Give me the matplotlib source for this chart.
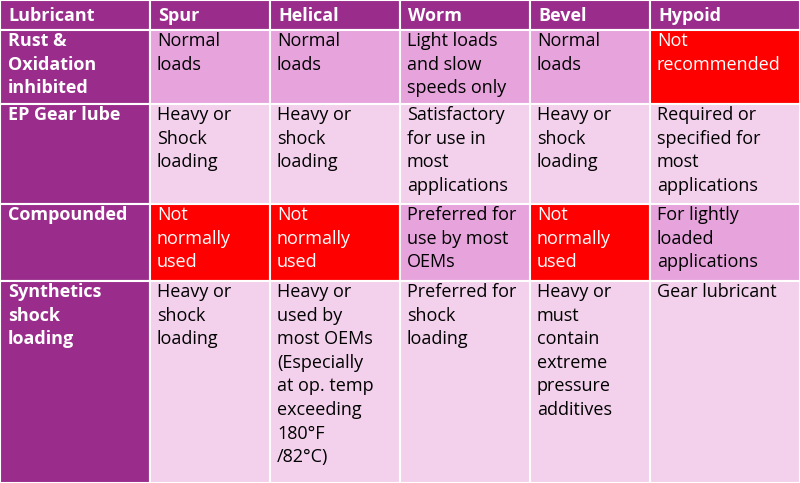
import matplotlib.pyplot as plt
from matplotlib.patches import Rectangle

columns = ["Lubricant", "Spur", "Helical", "Worm", "Bevel", "Hypoid"]
row_labels = ["Rust &\nOxidation\ninhibited", "EP Gear lube", "Compounded", "Synthetics\nshock\nloading"]
cells = [
    ["Normal\nloads", "Normal\nloads", "Light loads\nand slow\nspeeds only", "Normal\nloads", "Not\nrecommended"],
    ["Heavy or\nShock\nloading", "Heavy or\nshock\nloading", "Satisfactory\nfor use in\nmost\napplications",
     "Heavy or\nshock\nloading", "Required or\nspecified for\nmost\napplications"],
    ["Not\nnormally\nused", "Not\nnormally\nused", "Preferred for\nuse by most\nOEMs", "Not\nnormally\nused",
     "For lightly\nloaded\napplications"],
    ["Heavy or\nshock\nloading", "Heavy or\nused by\nmost OEMs\n(Especially\nat op. temp\nexceeding\n180°F\n/82°C)",
     "Preferred for\nshock\nloading", "Heavy or\nmust\ncontain\nextreme\npressure\nadditives", "Gear lubricant"],
]
# cell shade: 0 light, 1 medium, 2 red
shades = [
    [1, 1, 1, 1, 2],
    [0, 0, 0, 0, 0],
    [2, 2, 1, 2, 1],
    [0, 0, 0, 0, 0],
]

col_x = [0, 150, 270, 400, 530, 650, 800]
row_y = [0, 30, 104, 204, 281, 483]
purple = "#9A2C8C"
shade_colors = {0: "#F3D1EC", 1: "#E6A3DC", 2: "#FE0000"}

fig = plt.figure(figsize=(8, 4.83), dpi=100)
ax = fig.add_axes([0, 0, 1, 1])
ax.set_xlim(0, 800)
ax.set_ylim(483, 0)
ax.axis("off")

font = "Open Sans"
fs = 13
ls = 1.4

for c in range(6):
    x0, x1 = col_x[c], col_x[c + 1]
    ax.add_patch(Rectangle((x0, 0), x1 - x0, 30, facecolor=purple, edgecolor="white", lw=1.5))
    ax.text(x0 + 8, 16, columns[c], color="white", fontsize=fs, fontweight="bold",
            va="center", ha="left", family=font)

for r in range(4):
    y0, y1 = row_y[r + 1], row_y[r + 2]
    ax.add_patch(Rectangle((0, y0), 150, y1 - y0, facecolor=purple, edgecolor="white", lw=1.5))
    ax.text(8, y0 + 2, row_labels[r], color="white", fontsize=fs, fontweight="bold",
            va="top", ha="left", family=font, linespacing=ls)
    for c in range(5):
        x0, x1 = col_x[c + 1], col_x[c + 2]
        ax.add_patch(Rectangle((x0, y0), x1 - x0, y1 - y0,
                               facecolor=shade_colors[shades[r][c]], edgecolor="white", lw=1.5))
        ax.text(x0 + 7, y0 + 2, cells[r][c], color="white" if shades[r][c] == 2 else "black",
                fontsize=fs, va="top", ha="left", family=font, linespacing=ls)

fig.savefig("out.png", dpi=100)
